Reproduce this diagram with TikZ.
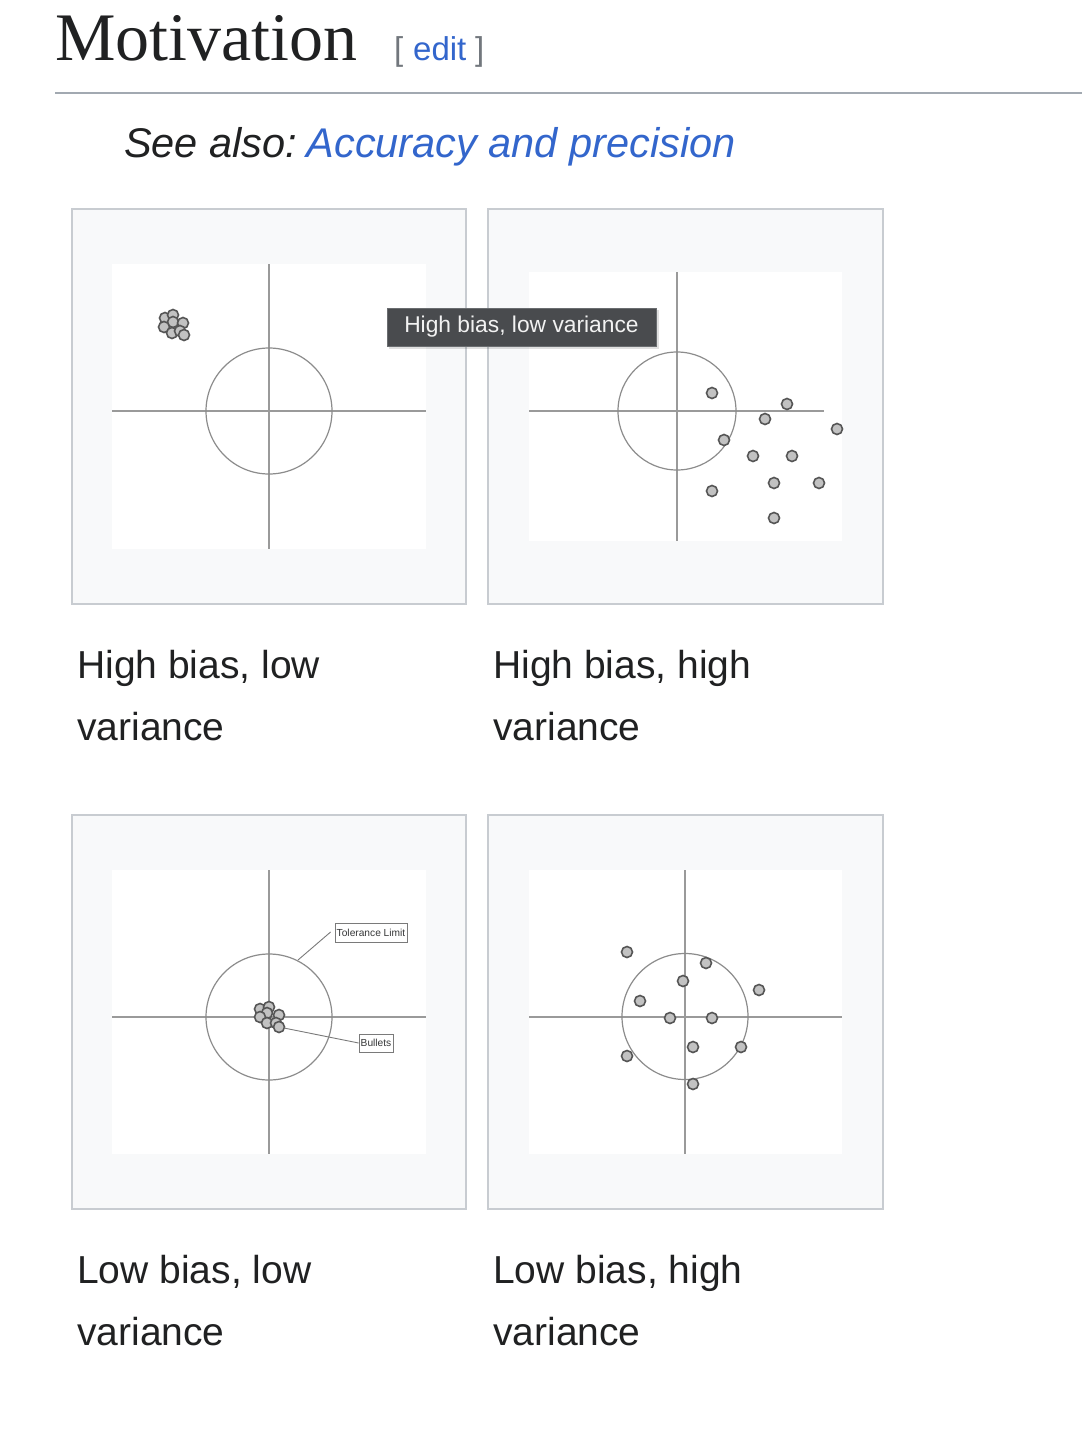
\documentclass[tikz,border=0pt]{standalone}
\usepackage{fontspec}
\setmainfont{Liberation Sans}
\newfontfamily\headserif{Liberation Serif}
\definecolor{textc}{HTML}{202122}
\definecolor{linkc}{HTML}{3366CC}
\definecolor{brackc}{HTML}{72777D}
\definecolor{rulec}{HTML}{A2A9B1}
\definecolor{framec}{HTML}{C8CCD1}
\definecolor{framebg}{HTML}{F8F9FA}
\definecolor{axisc}{HTML}{9A9A9A}
\definecolor{circc}{HTML}{8C8C8C}
\definecolor{dotdraw}{HTML}{555555}
\definecolor{dotfill}{HTML}{C2C2C2}
\definecolor{tipbg}{HTML}{494B4E}
\definecolor{tipborder}{HTML}{6A6D70}
\definecolor{tiptext}{HTML}{F2F2F2}
\definecolor{labc}{HTML}{7A7A7A}
\begin{document}
\begin{tikzpicture}[x=1pt,y=-1pt,
  frame/.style={draw=framec, fill=framebg, line width=2pt},
  imgbg/.style={fill=white, draw=none},
  axis/.style={draw=axisc, line width=1.5pt},
  target/.style={draw=circc, line width=1.2pt},
  shot/.style={circle, draw=dotdraw, fill=dotfill, line width=1.6pt, minimum size=11pt, inner sep=0pt},
  caption/.style={anchor=base west, inner sep=0pt, font=\fontsize{39}{62}\selectfont, text=textc},
  tinylabel/.style={draw=labc, line width=0.8pt, fill=white, inner sep=0pt, font=\fontsize{10.2}{12}\selectfont, text=textc!90},
  leader/.style={draw=labc, line width=0.9pt}
]
\useasboundingbox (0,0) rectangle (1082,1430);
\fill[white] (0,0) rectangle (1082,1430);

% heading
\node[anchor=base west, inner sep=0pt, font=\headserif\fontsize{68}{80}\selectfont, text=textc] (head) at (55,60) {Motivation};
\node[anchor=base west, inner sep=0pt, font=\fontsize{33}{40}\selectfont, text=brackc] (lbr) at (394,60) {[};
\node[anchor=base west, inner sep=0pt, font=\fontsize{33}{40}\selectfont, text=linkc] (edit) at (413,60) {edit};
\node[anchor=base west, inner sep=0pt, font=\fontsize{33}{40}\selectfont, text=brackc] (rbr) at (475,60) {]};
\coordinate (ruleA) at (55,93);
\coordinate (ruleB) at (1082,93);
\draw[rulec, line width=2.2pt] (ruleA) -- (ruleB);

% see also
\node[anchor=base west, inner sep=0pt, font=\itshape\fontsize{41.5}{48}\selectfont, text=textc] (see) at (124,157) {See also:};
\node[anchor=base west, inner sep=0pt, font=\itshape\fontsize{41.5}{48}\selectfont, text=linkc] (acc) at ([xshift=9pt]see.base east) {Accuracy and precision};

% ---------- panel 1 ----------
\draw[frame] (72,209) rectangle (466,604);
\fill[imgbg] (112,264) rectangle (426,549);
\draw[axis] (269,264) -- (269,549);
\draw[axis] (112,411) -- (426,411);
\draw[target] (269,411) circle[radius=63];
\foreach \dx/\dy [count=\i] in {-9/-7,-1/-10,-1/-3,-10/2,9/-2,-2/8,6/6,10/10}
  \node[shot] (a\i) at (174+\dx,325+\dy) {};

% ---------- panel 2 ----------
\draw[frame] (488,209) rectangle (883,604);
\fill[imgbg] (529,272) rectangle (842,541);
\draw[axis] (677,272) -- (677,541);
\draw[axis] (529,411) -- (824,411);
\draw[target] (677,411) circle[radius=59];
\foreach \px/\py [count=\i] in {712/393,787/404,765/419,837/429,724/440,753/456,792/456,774/483,819/483,712/491,774/518}
  \node[shot] (b\i) at (\px,\py) {};

% ---------- panel 3 ----------
\draw[frame] (72,815) rectangle (466,1209);
\fill[imgbg] (112,870) rectangle (426,1154);
\draw[axis] (269,870) -- (269,1154);
\draw[axis] (112,1017) -- (426,1017);
\draw[target] (269,1017) circle[radius=63];
\foreach \dx/\dy [count=\i] in {-9/-7,0/-9,-2/-3,-9/1,10/-1,-2/7,7/7,10/11}
  \node[shot] (c\i) at (269+\dx,1016+\dy) {};
\node[tinylabel, minimum width=72pt, minimum height=19pt] (tol) at (371,932.5) {Tolerance Limit};
\node[tinylabel, minimum width=34pt, minimum height=18pt] (bul) at (376,1043) {Bullets};
\coordinate (tolpt) at (298,960);
\coordinate (bulpt) at (284,1028);
\draw[leader] (tolpt) -- ([xshift=-4pt,yshift=0.5pt]tol.west);
\draw[leader] (bulpt) -- (bul.west);

% ---------- panel 4 ----------
\draw[frame] (488,815) rectangle (883,1209);
\fill[imgbg] (529,870) rectangle (842,1154);
\draw[axis] (685,870) -- (685,1154);
\draw[axis] (529,1017) -- (842,1017);
\draw[target] (685,1016.5) circle[radius=63];
\foreach \px/\py [count=\i] in {627/952,706/963,683/981,759/990,640/1001,670/1018,712/1018,693/1047,741/1047,627/1056,693/1084}
  \node[shot] (d\i) at (\px,\py) {};

% captions
\node[caption] (cap1a) at (77,678) {High bias, low};
\node[caption] (cap1b) at (77,740) {variance};
\node[caption] (cap2a) at (493,678) {High bias, high};
\node[caption] (cap2b) at (493,740) {variance};
\node[caption] (cap3a) at (77,1283) {Low bias, low};
\node[caption] (cap3b) at (77,1345) {variance};
\node[caption] (cap4a) at (493,1283) {Low bias, high};
\node[caption] (cap4b) at (493,1345) {variance};

% tooltip
\fill[black, opacity=0.12] (389,310) rectangle (659,349);
\node[draw=tipborder, fill=tipbg, line width=1pt, minimum width=269pt, minimum height=38pt, inner sep=0pt,
      font=\fontsize{22.8}{26}\selectfont, text=tiptext] (tooltip) at (521.5,327) {High bias, low variance};
\end{tikzpicture}
\end{document}
